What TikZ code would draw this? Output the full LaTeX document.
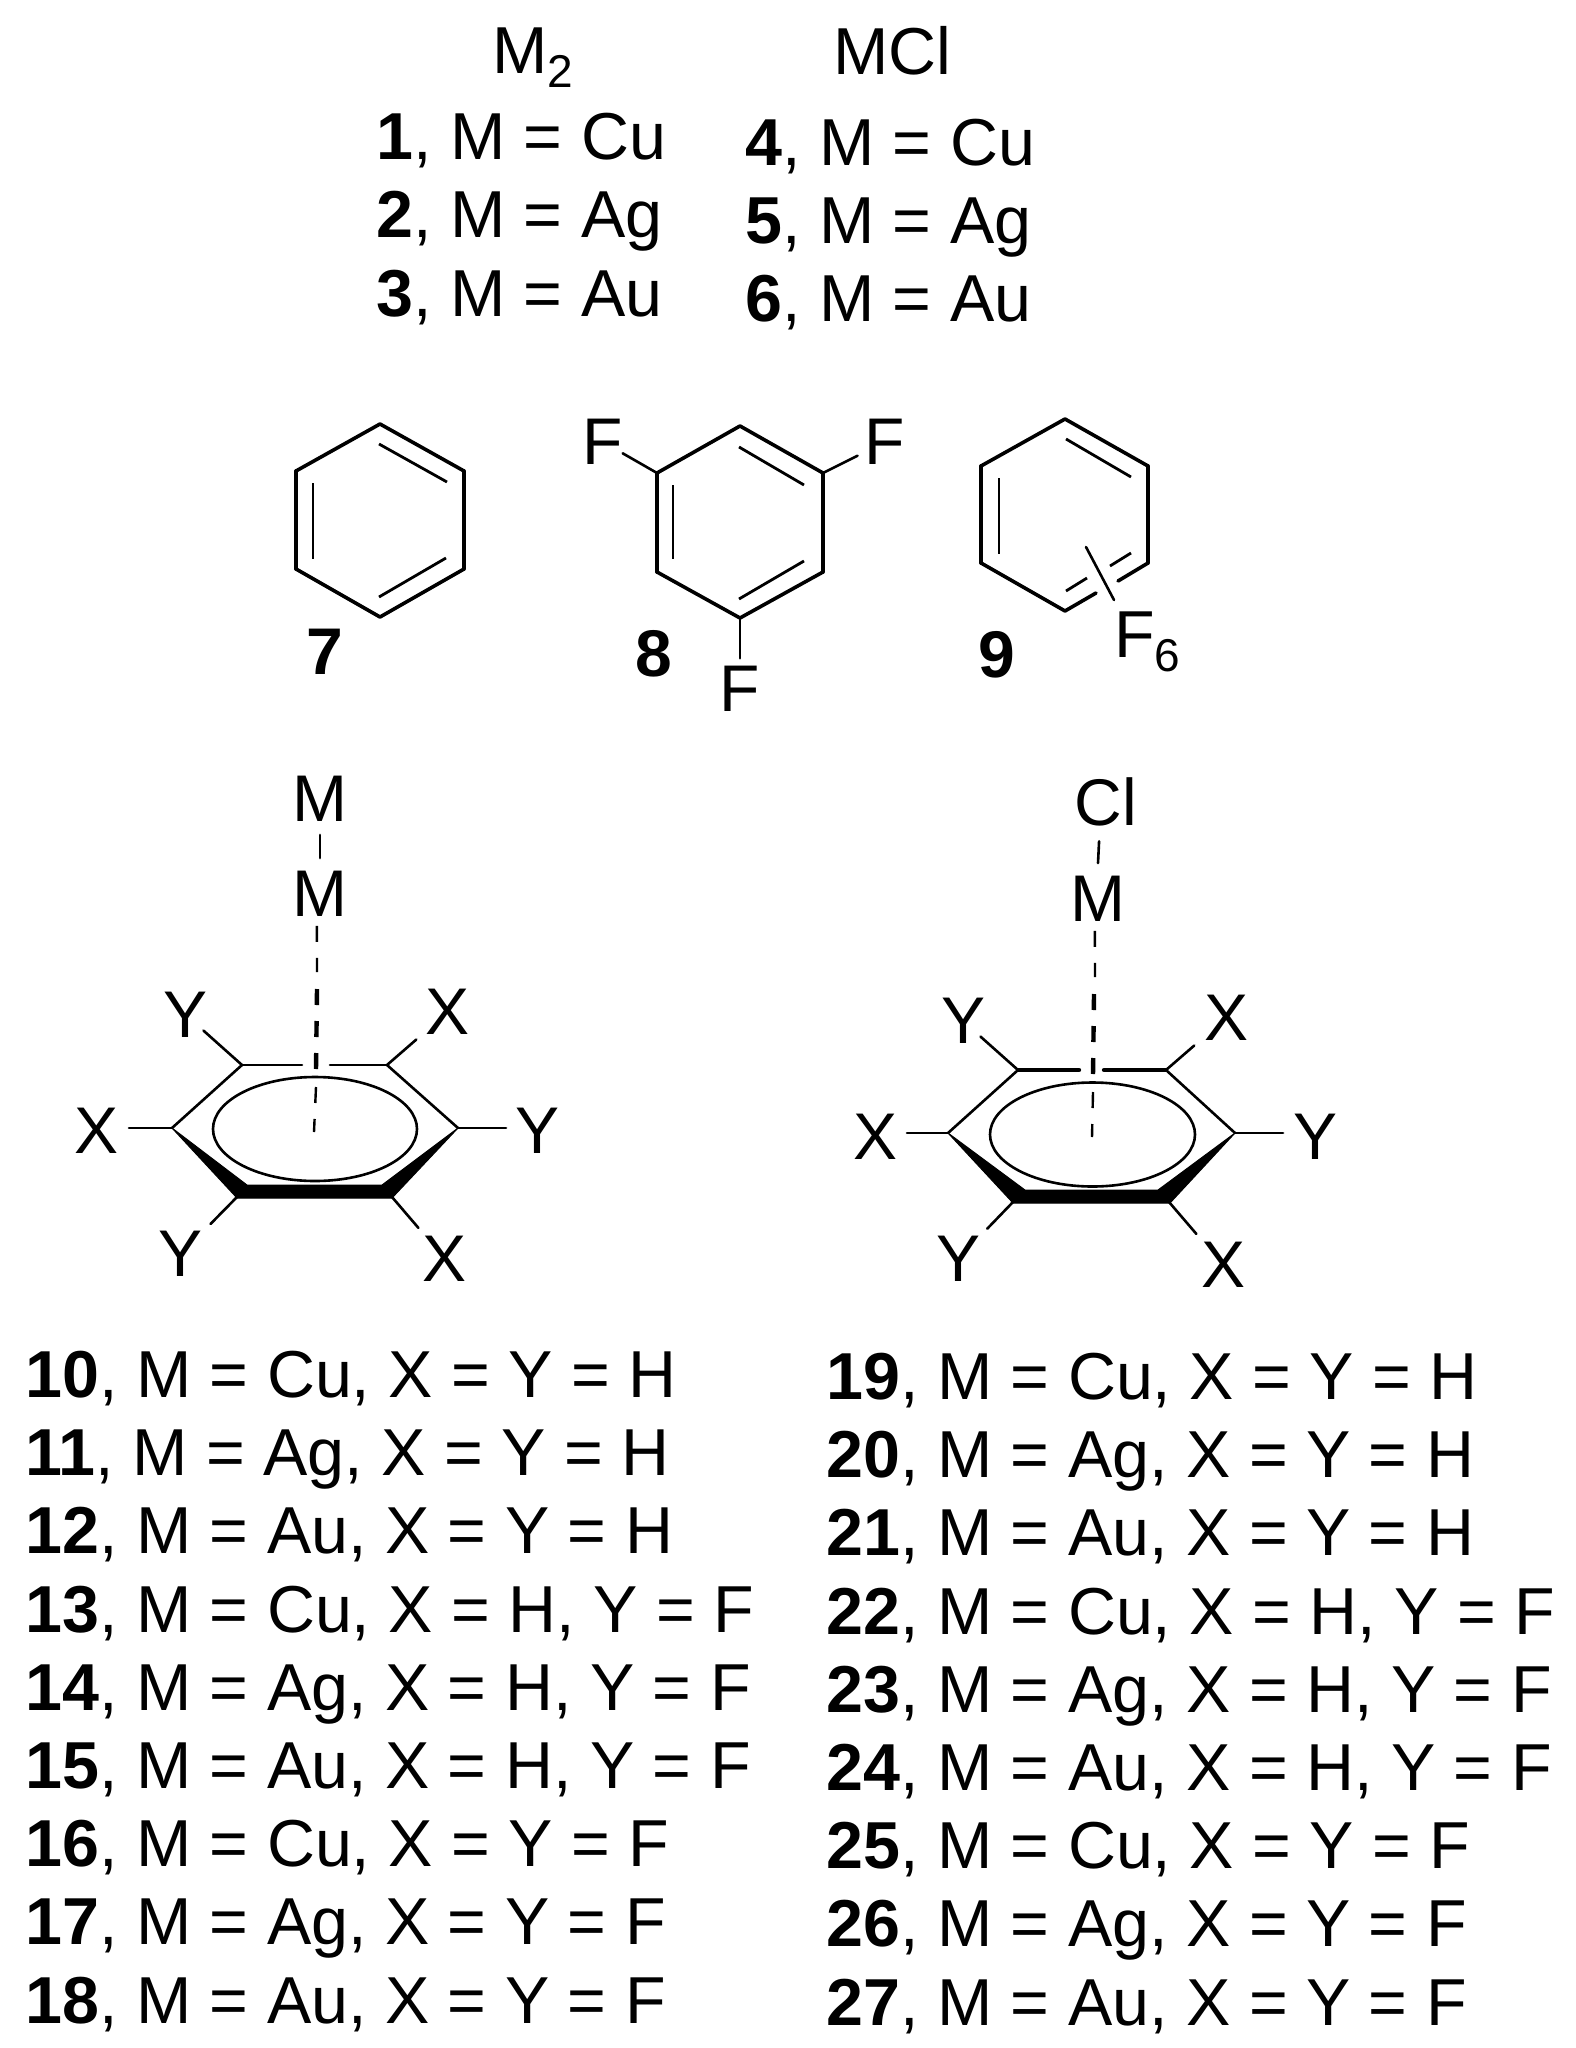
\documentclass[tikz,border=0pt]{standalone}
\usepackage{fontspec}
\setmainfont{Liberation Sans}
\def\subtxt#1{\raisebox{-7pt}{\fontsize{23}{24}\selectfont #1}}
\begin{document}
\begin{tikzpicture}[x=0.5pt,y=-0.5pt]
\tikzset{edge/.style = {-, line width=1.3pt, line cap=round}}
\tikzset{ring/.style = {-, line width=1.8pt, line cap=round}}
\tikzset{inner/.style = {-, line width=1.4pt}}
\tikzset{dashbond/.style = {-, dash pattern=on 8pt off 8pt}}
\tikzset{wedge/.style = {fill=black, draw=black, line width=0.5pt, line join=round}}
\tikzset{atom/.style = {shape=circle, inner sep=0pt, font=\fontsize{33}{35}\selectfont}}
\tikzset{num/.style = {inner sep=0pt, font=\fontsize{33}{35}\selectfont\bfseries}}
\tikzset{entry/.style = {anchor=base west, inner sep=0pt, font=\fontsize{33.2}{35}\selectfont}}
\useasboundingbox (0,0) rectangle (1575,2048);
% table at the top
\node[entry](hm) at (492,74) {M\subtxt{2}};
\node[entry](hc) at (833,75) {MCl};
\node[entry](t1) at (376,160) {\textbf{1}, M = Cu};
\node[entry](t2) at (376,238) {\textbf{2}, M = Ag};
\node[entry](t3) at (376,317) {\textbf{3}, M = Au};
\node[entry](t4) at (745,166) {\textbf{4}, M = Cu};
\node[entry](t5) at (745,244) {\textbf{5}, M = Ag};
\node[entry](t6) at (745,322) {\textbf{6}, M = Au};
% benzene
\coordinate (a1) at (380,424);
\coordinate (a2) at (464,471);
\coordinate (a3) at (464,569);
\coordinate (a4) at (380,617);
\coordinate (a5) at (296,569);
\coordinate (a6) at (296,471);
\coordinate (a7) at (379,444);
\coordinate (a8) at (447,482);
\coordinate (a9) at (379,597);
\coordinate (a10) at (446,558);
\coordinate (a11) at (313,483);
\coordinate (a12) at (313,559);
\draw[ring] (a1) to (a2);
\draw[ring] (a2) to (a3);
\draw[ring] (a3) to (a4);
\draw[ring] (a4) to (a5);
\draw[ring] (a5) to (a6);
\draw[ring] (a6) to (a1);
\draw[inner] (a7) to (a8);
\draw[inner] (a9) to (a10);
\draw[inner] (a11) to (a12);
\node[num](n7) at (325,652) {7};
% trifluorobenzene
\coordinate (b1) at (740,426);
\coordinate (b2) at (823,473);
\coordinate (b3) at (823,572);
\coordinate (b4) at (740,618);
\coordinate (b5) at (657,572);
\coordinate (b6) at (657,473);
\coordinate (b7) at (739,447);
\coordinate (b8) at (804,485);
\coordinate (b9) at (739,599);
\coordinate (b10) at (804,561);
\coordinate (b11) at (673,485);
\coordinate (b12) at (673,559);
\node[atom](f1) at (603,442) {F};
\node[atom](f2) at (885,442) {F};
\node[atom](f3) at (740,689) {F};
\draw[ring] (b1) to (b2);
\draw[ring] (b2) to (b3);
\draw[ring] (b3) to (b4);
\draw[ring] (b4) to (b5);
\draw[ring] (b5) to (b6);
\draw[ring] (b6) to (b1);
\draw[inner] (b7) to (b8);
\draw[inner] (b9) to (b10);
\draw[inner] (b11) to (b12);
\draw[edge, shorten >=-4pt] (b6) to (f1);
\draw[edge] (b2) to (f2);
\draw[edge] (b4) to (f3.north);
\node[num](n8) at (654,654) {8};
% hexafluorobenzene
\coordinate (c1) at (1065,419);
\coordinate (c2) at (1148,466);
\coordinate (c3) at (1148,563);
\coordinate (c4) at (1065,611);
\coordinate (c5) at (981,563);
\coordinate (c6) at (981,466);
\coordinate (c7) at (1066,439);
\coordinate (c8) at (1131,477);
\coordinate (c9) at (999,478);
\coordinate (c10) at (999,554);
\coordinate (c11) at (1118,581);
\coordinate (c12) at (1096,593);
\coordinate (c13) at (1066,591);
\coordinate (c14) at (1087,578);
\coordinate (c15) at (1110,566);
\coordinate (c16) at (1131,553);
\coordinate (c17) at (1086,547);
\coordinate (c18) at (1114,600);
\draw[ring] (c1) to (c2);
\draw[ring] (c2) to (c3);
\draw[ring] (c3) to (c11);
\draw[ring] (c12) to (c4);
\draw[ring] (c4) to (c5);
\draw[ring] (c5) to (c6);
\draw[ring] (c6) to (c1);
\draw[inner] (c7) to (c8);
\draw[inner] (c9) to (c10);
\draw[inner] (c13) to (c14);
\draw[inner] (c15) to (c16);
\draw[edge] (c17) to (c18);
\node[entry](f6) at (1114,657) {F\subtxt{6}};
\node[num](n9) at (997,655) {9};
% M2 complex
\coordinate (d1) at (242,1065);
\coordinate (d2) at (387,1065);
\coordinate (d3) at (458,1128);
\coordinate (d4) at (392,1197);
\coordinate (d5) at (237,1197);
\coordinate (d6) at (172,1128);
\coordinate (d7) at (302,1065);
\coordinate (d8) at (330,1065);
\coordinate (d9) at (247,1185);
\coordinate (d10) at (382,1185);
\coordinate (d11) at (392,1198);
\coordinate (d12) at (237,1198);
\coordinate (d13) at (317,972);
\coordinate (d14) at (317,989);
\coordinate (d15) at (316,1070);
\coordinate (d16) at (316,1087);
\coordinate (d17) at (314,1132);
\coordinate (d0) at (315,1129);
\node[atom](m1) at (320,799) {M};
\node[atom](m2) at (320,894) {M};
\node[atom](y1) at (186,1015) {Y};
\node[atom](x1) at (448,1012) {X};
\node[atom](x2) at (97,1131) {X};
\node[atom](y2) at (538,1131) {Y};
\node[atom](y3) at (181,1254) {Y};
\node[atom](x3) at (445,1259) {X};
\draw[edge] (m1) to (m2);
\draw[edge] (d1) to (d7);
\draw[edge] (d8) to (d2);
\draw[edge] (d2) to (d3);
\draw[edge] (d6) to (d1);
\fill[wedge] (d6) -- (d9) -- (d10) -- (d3) -- (d11) -- (d12) -- cycle;
\draw[edge] (d0) ellipse [x radius=102, y radius=52];
\draw[edge, shorten >=-4.3pt] (d1) to (y1);
\draw[edge, shorten >=5pt] (d2) to (x1);
\draw[edge] (d6) to (x2.east |- d6);
\draw[edge] (d3) to (y2.west |- d3);
\draw[edge, shorten >=5pt] (d5) to (y3);
\draw[edge, shorten >=4.5pt] (d4) to (x3);
\draw[dashbond, line width=1.2pt, shorten <=-2pt] (m2.265) to (d13);
\draw[dashbond, line width=2.2pt] (d14) to (d15);
\draw[dashbond, line width=1.2pt] (d16) to (d17);
% MCl complex
\coordinate (e1) at (1018,1070);
\coordinate (e2) at (1166,1070);
\coordinate (e3) at (1235,1133);
\coordinate (e4) at (1169,1202);
\coordinate (e5) at (1013,1202);
\coordinate (e6) at (948,1133);
\coordinate (e7) at (1079,1070);
\coordinate (e8) at (1104,1070);
\coordinate (e9) at (1025,1190);
\coordinate (e10) at (1158,1190);
\coordinate (e11) at (1170,1203);
\coordinate (e12) at (1013,1203);
\coordinate (e13) at (1095,977);
\coordinate (e14) at (1094,994);
\coordinate (e15) at (1093,1075);
\coordinate (e16) at (1093,1092);
\coordinate (e17) at (1092,1137);
\coordinate (e0) at (1092.5,1134.5);
\node[atom](c1l) at (1106,802) {Cl};
\node[atom](m3) at (1098,899) {M};
\node[atom](y4) at (963,1021) {Y};
\node[atom](x4) at (1226,1018) {X};
\node[atom](x5) at (875,1137) {X};
\node[atom](y5) at (1315,1137) {Y};
\node[atom](y6) at (958,1259) {Y};
\node[atom](x6) at (1223,1265) {X};
\draw[edge] (c1l.260) to (m3.north);
\draw[edge, line width=2.2pt] (e1) to (e7);
\draw[edge, line width=2.2pt] (e8) to (e2);
\draw[edge] (e2) to (e3);
\draw[edge] (e6) to (e1);
\fill[wedge] (e6) -- (e9) -- (e10) -- (e3) -- (e11) -- (e12) -- cycle;
\draw[edge] (e0) ellipse [x radius=102.5, y radius=52];
\draw[edge, shorten >=-4.3pt] (e1) to (y4);
\draw[edge, shorten >=5pt] (e2) to (x4);
\draw[edge] (e6) to (x5.east |- e6);
\draw[edge] (e3) to (y5.west |- e3);
\draw[edge, shorten >=5pt] (e5) to (y6);
\draw[edge, shorten >=4.5pt] (e4) to (x6);
\draw[dashbond, line width=1.2pt, shorten <=-2pt] (m3.265) to (e13);
\draw[dashbond, line width=2.2pt] (e14) to (e15);
\draw[dashbond, line width=1.2pt] (e16) to (e17);
% lists under the complexes
\node[entry](l10) at (25,1397) {\textbf{10}, M = Cu, X = Y = H};
\node[entry](l11) at (25,1475) {\textbf{11}, M = Ag, X = Y = H};
\node[entry](l12) at (25,1553) {\textbf{12}, M = Au, X = Y = H};
\node[entry](l13) at (25,1632) {\textbf{13}, M = Cu, X = H, Y = F};
\node[entry](l14) at (25,1710) {\textbf{14}, M = Ag, X = H, Y = F};
\node[entry](l15) at (25,1788) {\textbf{15}, M = Au, X = H, Y = F};
\node[entry](l16) at (25,1866) {\textbf{16}, M = Cu, X = Y = F};
\node[entry](l17) at (25,1944) {\textbf{17}, M = Ag, X = Y = F};
\node[entry](l18) at (25,2023) {\textbf{18}, M = Au, X = Y = F};
\node[entry](l19) at (826,1399) {\textbf{19}, M = Cu, X = Y = H};
\node[entry](l20) at (826,1477) {\textbf{20}, M = Ag, X = Y = H};
\node[entry](l21) at (826,1555) {\textbf{21}, M = Au, X = Y = H};
\node[entry](l22) at (826,1634) {\textbf{22}, M = Cu, X = H, Y = F};
\node[entry](l23) at (826,1712) {\textbf{23}, M = Ag, X = H, Y = F};
\node[entry](l24) at (826,1790) {\textbf{24}, M = Au, X = H, Y = F};
\node[entry](l25) at (826,1868) {\textbf{25}, M = Cu, X = Y = F};
\node[entry](l26) at (826,1946) {\textbf{26}, M = Ag, X = Y = F};
\node[entry](l27) at (826,2025) {\textbf{27}, M = Au, X = Y = F};
\end{tikzpicture}
\end{document}
